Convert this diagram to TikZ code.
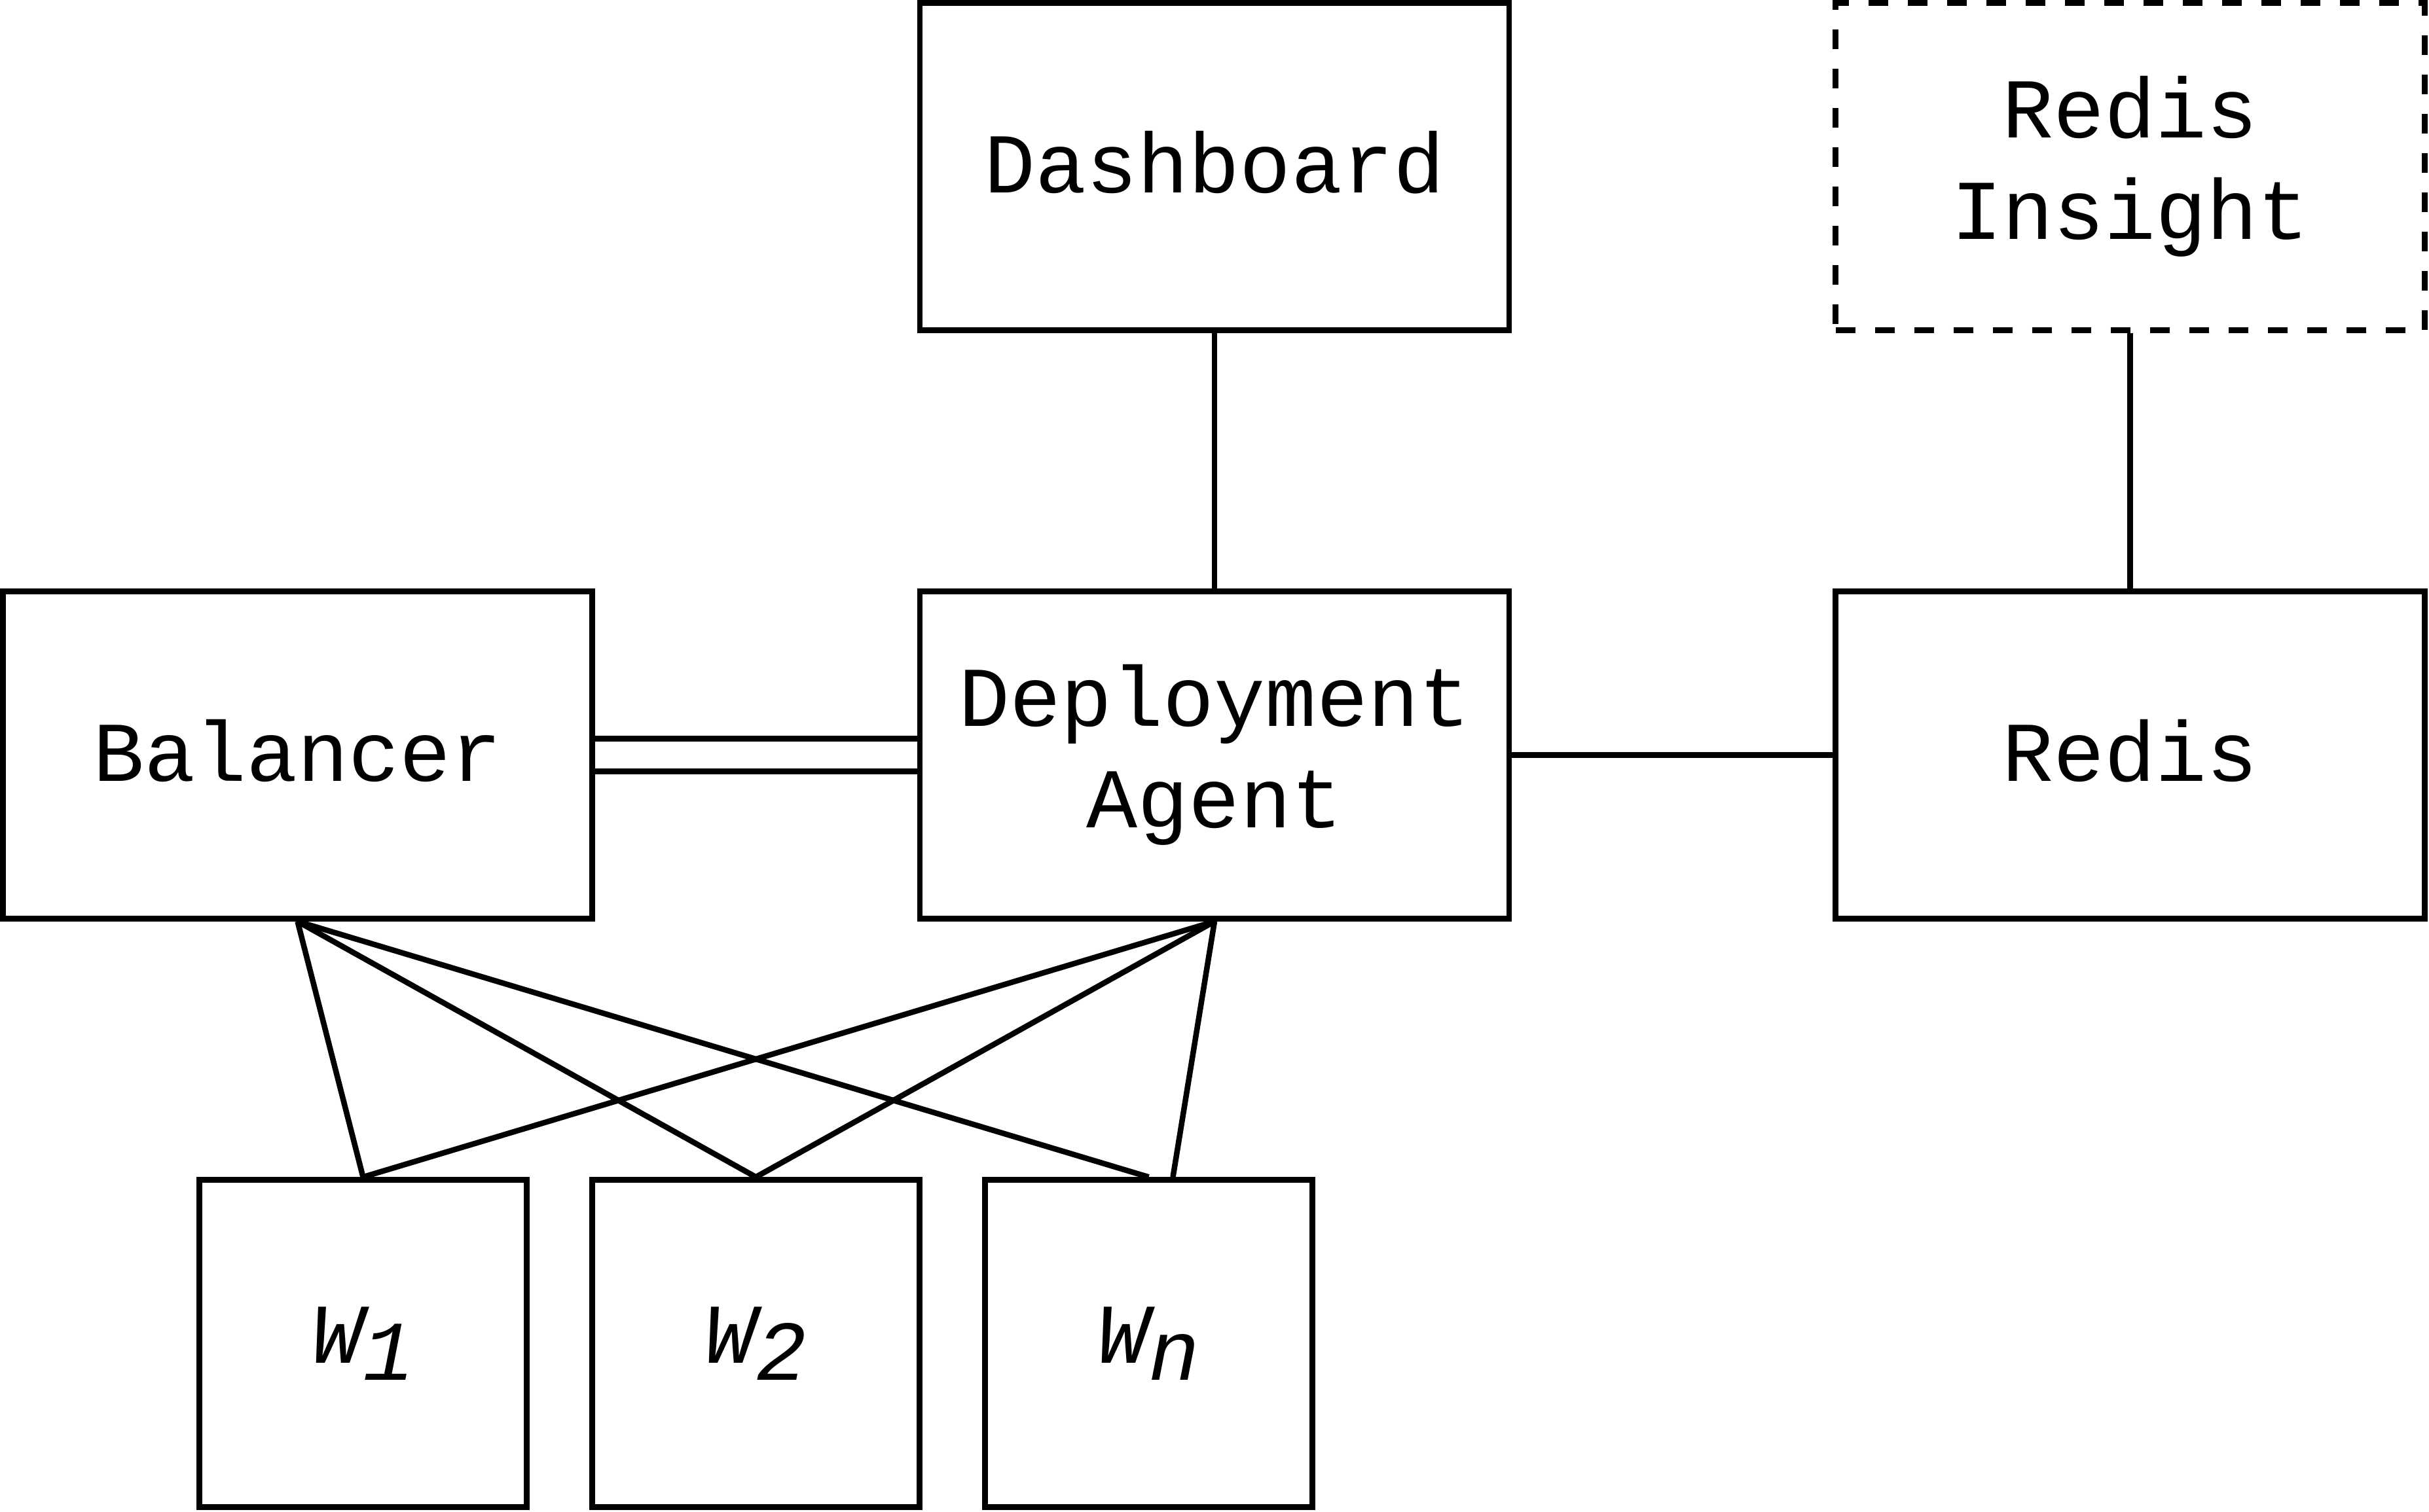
\documentclass[tikz,border=0pt]{standalone}
\usepackage{fontspec}
\newfontfamily\dmono{Liberation Mono}
\begin{document}
\begin{tikzpicture}[
  x=1cm,y=1cm,
  boxnode/.style={draw, line width=0.085cm, inner sep=0pt, align=center,
    font=\dmono\fontsize{37}{44.2}\selectfont},
  bigbox/.style={boxnode, minimum width=9cm, minimum height=5cm},
  onebox/.style={bigbox, text depth=0.14cm},
  wbox/.style={boxnode, minimum width=5cm, minimum height=5cm},
  dashbox/.style={bigbox, dash pattern=on 0.3cm off 0.3cm},
  link/.style={line width=0.085cm}
]
\useasboundingbox (0,0) rectangle (37.1,-23.1);
\node[onebox] (dash) at (18.55,-2.545) {Dashboard};
\node[dashbox] (insight) at (32.535,-2.545) {Redis\\Insight};
\node[onebox] (bal) at (4.545,-11.535) {Balancer};
\node[bigbox] (agent) at (18.55,-11.535) {Deployment\\Agent};
\node[onebox] (redis) at (32.535,-11.535) {Redis};
\node[wbox] (w1) at (5.545,-20.525) {\itshape W\raisebox{-0.2em}{1}};
\node[wbox] (w2) at (11.545,-20.525) {\itshape W\raisebox{-0.2em}{2}};
\node[wbox] (wn) at (17.545,-20.525) {\itshape W\raisebox{-0.2em}{n}};
\coordinate (wnend) at ([xshift=0.37cm]wn.north);
\draw[link] (dash.south) -- (agent.north);
\draw[link] (insight.south) -- (redis.north);
\draw[link] (agent.east) -- (redis.west);
\draw[link] ([yshift=0.25cm]bal.east) -- ([yshift=0.25cm]agent.west);
\draw[link] ([yshift=-0.25cm]bal.east) -- ([yshift=-0.25cm]agent.west);
\draw[link] (bal.south) -- (w1.north);
\draw[link] (bal.south) -- (w2.north);
\draw[link] (bal.south) -- (wn.north);
\draw[link] (agent.south) -- (w1.north);
\draw[link] (agent.south) -- (w2.north);
\draw[link] (agent.south) -- (wnend);
\end{tikzpicture}
\end{document}
